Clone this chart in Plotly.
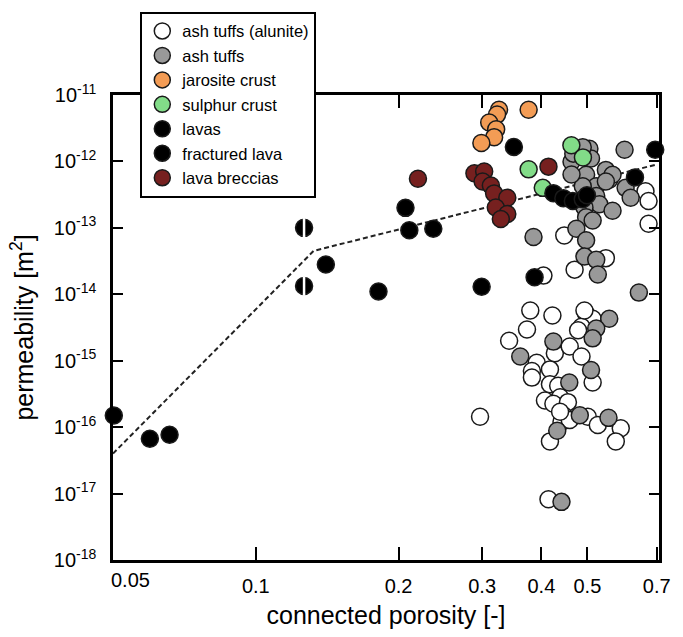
import math
import plotly.graph_objects as go

# ---------------- data ----------------
alunite_x = [0.379, 0.422, 0.373, 0.342, 0.497, 0.513, 0.486, 0.478, 0.427, 0.459,
             0.486, 0.391, 0.382, 0.382, 0.417, 0.417, 0.434, 0.438, 0.407, 0.424,
             0.455, 0.513, 0.445, 0.441, 0.459, 0.501, 0.526, 0.588, 0.574, 0.417,
             0.297, 0.414, 0.663, 0.673, 0.673, 0.447, 0.547, 0.470, 0.404, 0.493, 0.438]
alunite_y = [5.7e-15, 4.8e-15, 2.95e-15, 2.0e-15, 5.08e-15, 4.29e-15, 3.24e-15, 2.88e-15, 1.3e-15, 1.64e-15,
             1.16e-15, 9.3e-16, 7.0e-16, 5.57e-16, 7.4e-16, 4.43e-16, 4.2e-16, 2.82e-16, 2.52e-16, 2.25e-16,
             2.38e-16, 4.7e-16, 1.51e-16, 1.2e-16, 1.28e-16, 1.43e-16, 1.08e-16, 9.6e-17, 6.1e-17, 6.1e-17,
             1.43e-16, 8.2e-18, 3.56e-13, 2.54e-13, 1.15e-13, 7.7e-14, 3.5e-14, 2.35e-14, 1.91e-14, 5.7e-15, 1.7e-16]

ash_x = [0.505, 0.599, 0.463, 0.509, 0.497, 0.547, 0.556, 0.522, 0.565, 0.602,
         0.617, 0.522, 0.530, 0.565, 0.493, 0.497, 0.513, 0.474, 0.497, 0.493,
         0.522, 0.526, 0.385, 0.467, 0.547, 0.489, 0.463, 0.489,
         0.642, 0.556, 0.522, 0.513, 0.424, 0.361, 0.509, 0.458, 0.482, 0.554, 0.432, 0.441]
ash_y = [1.556e-12, 1.50e-12, 9.9e-13, 1.107e-12, 6.3e-13, 7.46e-13, 5.31e-13, 4.23e-13, 6.3e-13, 4.0e-13,
         2.84e-13, 3.01e-13, 2.27e-13, 1.81e-13, 2.02e-13, 1.44e-13, 1.29e-13, 9.7e-14, 6.5e-14, 3.69e-14,
         3.3e-14, 1.98e-14, 7.3e-14, 1.31e-12, 5.0e-13, 4.23e-13, 6.37e-13, 1.64e-12,
         1.06e-14, 4.29e-15, 3.05e-15, 2.17e-15, 1.94e-15, 1.16e-15, 7.24e-16, 4.7e-16, 1.51e-16, 1.38e-16, 8.8e-17, 7.5e-18]

jarosite_x = [0.3257, 0.3226, 0.376, 0.3105, 0.3212, 0.318, 0.2989]
jarosite_y = [6.0e-12, 5.07e-12, 6.0e-12, 3.86e-12, 3.04e-12, 2.32e-12, 1.89e-12]

sulphur_x = [0.4627, 0.4894, 0.376, 0.4027]
sulphur_y = [1.75e-12, 1.15e-12, 7.6e-13, 4.0e-13]

lava_x = [0.0502, 0.0598, 0.0658, 0.1405, 0.1814, 0.2068, 0.2107, 0.2367, 0.2993, 0.350,
          0.387, 0.695, 0.63, 0.424, 0.445, 0.466, 0.489, 0.499]
lava_y = [1.5e-16, 6.7e-17, 7.7e-17, 2.8e-14, 1.1e-14, 2.0e-13, 9.2e-14, 9.7e-14, 1.3e-14, 1.65e-12,
          1.8e-14, 1.5e-12, 5.75e-13, 3.33e-13, 2.8e-13, 2.54e-13, 2.7e-13, 3.1e-13]

fractured_x = [0.1264, 0.1264]
fractured_y = [1.0e-13, 1.33e-14]

breccia_x = [0.2197, 0.289, 0.303, 0.3007, 0.313, 0.318, 0.339, 0.3206, 0.339, 0.3285, 0.414]
breccia_y = [5.5e-13, 6.65e-13, 7.05e-13, 5.0e-13, 4.33e-13, 3.3e-13, 2.84e-13, 2.02e-13, 1.62e-13, 1.36e-13, 8.35e-13]

trend_x = [0.05, 0.1324, 0.7]
trend_y = [4.0e-17, 4.5e-14, 9.0e-13]

x_tickvals = [0.1, 0.2, 0.3, 0.4, 0.5, 0.7]
x_ticktext = ["0.1", "0.2", "0.3", "0.4", "0.5", "0.7"]
y_exponents = [-18, -17, -16, -15, -14, -13, -12, -11]

# ---------------- figure ----------------
FONT = "Liberation Sans, Arial, sans-serif"
EDGE = "#1a1a1a"
MS = 17

fig = go.Figure()

fig.add_trace(go.Scatter(x=trend_x, y=trend_y, mode="lines", showlegend=False,
                         line=dict(color="#222222", width=2, dash="5px,3px"), hoverinfo="skip"))

def add_group(name, xs, ys, color):
    fig.add_trace(go.Scatter(
        x=xs, y=ys, mode="markers", name=name, cliponaxis=False,
        marker=dict(size=MS, color=color, line=dict(color=EDGE, width=1.5))))

add_group("ash tuffs (alunite)", alunite_x, alunite_y, "white")
add_group("ash tuffs", ash_x, ash_y, "#999999")
add_group("jarosite crust", jarosite_x, jarosite_y, "#f39c55")
add_group("sulphur crust", sulphur_x, sulphur_y, "#82dc88")
add_group("lavas", lava_x, lava_y, "black")
add_group("fractured lava", fractured_x, fractured_y, "black")
fig.add_trace(go.Scatter(x=fractured_x, y=fractured_y, mode="markers", showlegend=False,
                         cliponaxis=False, hoverinfo="skip",
                         marker=dict(symbol="line-ns", size=14, color="white",
                                     line=dict(color="white", width=2.5))))
add_group("lava breccias", breccia_x, breccia_y, "#76201f")

fig.add_annotation(x=math.log10(0.05), y=0, xref="x", yref="paper", text="0.05",
                   showarrow=False, xanchor="center", yanchor="top", xshift=17, yshift=-7,
                   font=dict(family=FONT, size=20, color="black"))

fig.update_xaxes(type="log", range=[math.log10(0.05), -0.150],
                 tickvals=x_tickvals, ticktext=x_ticktext,
                 ticks="inside", ticklen=13, tickwidth=2, tickcolor="black",
                 showline=True, linewidth=2.5, linecolor="black", mirror="ticks",
                 showgrid=False, zeroline=False, ticklabelstandoff=6,
                 tickfont=dict(family=FONT, size=20, color="black"),
                 title=dict(text="connected porosity [-]", standoff=11,
                            font=dict(family=FONT, size=25, color="black")))
fig.update_yaxes(type="log", range=[-18, -11],
                 tickvals=[10.0 ** e for e in y_exponents],
                 ticktext=["10<sup>%d</sup>" % e for e in y_exponents],
                 ticks="inside", ticklen=10, tickwidth=2, tickcolor="black",
                 showline=True, linewidth=2.5, linecolor="black", mirror="ticks",
                 showgrid=False, zeroline=False, ticklabelstandoff=10,
                 tickfont=dict(family=FONT, size=20, color="black"),
                 title=dict(text="permeability [m<sup>2</sup>]", standoff=14,
                            font=dict(family=FONT, size=25, color="black")))

fig.update_layout(
    width=683, height=637,
    margin=dict(l=113, r=16, t=87, b=76),
    paper_bgcolor="white", plot_bgcolor="white",
    font=dict(family=FONT, color="black"),
    legend=dict(x=0.05, y=1.179, xanchor="left", yanchor="top",
                bgcolor="white", bordercolor="black", borderwidth=2,
                font=dict(family=FONT, size=16.5, color="black"),
                tracegroupgap=0, itemwidth=30),
)

fig.write_html("out.html")
